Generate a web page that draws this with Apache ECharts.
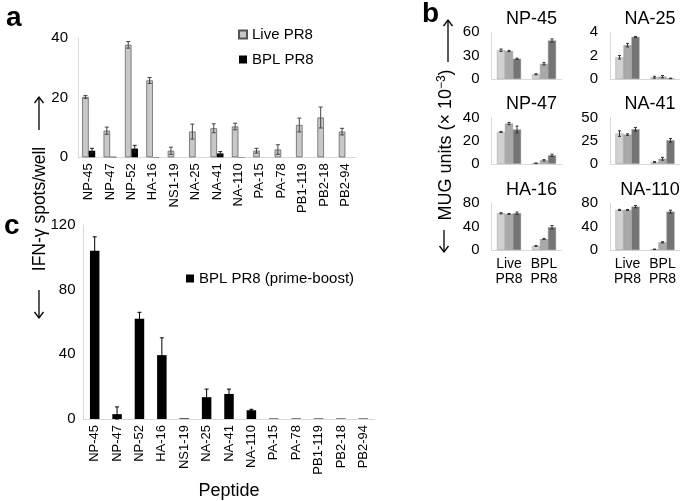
<!DOCTYPE html>
<html><head><meta charset="utf-8">
<script src="https://cdn.jsdelivr.net/npm/echarts@6/dist/echarts.min.js"></script>
<style>html,body{margin:0;padding:0;background:#fff}#c{width:685px;height:501px}</style>
</head><body><div id="c"></div>
<script>
// ---- data ----
const peptides = ['NP-45','NP-47','NP-52','HA-16','NS1-19','NA-25','NA-41','NA-110','PA-15','PA-78','PB1-119','PB2-18','PB2-94'];
const liveA    = [20.2, 8.9, 37.6, 25.7, 2.2, 8.6, 9.7, 10.3, 2.2, 2.6, 10.8, 13.3, 8.6];
const liveAErr = [0.5, 1.2, 1.1, 1.0, 1.2, 2.5, 1.5, 1.1, 0.8, 1.6, 2.3, 3.5, 1.1];
const bplA     = [2.2, 0.2, 2.9, 0.1, 0, 0, 1.3, 0.1, 0, 0, 0, 0, 0];
const bplAErr  = [0.8, 0, 1.1, 0, 0, 0, 0.6, 0, 0, 0, 0, 0, 0];
const bplC     = [104, 3, 62, 39.5, 0.4, 13.5, 15.5, 5.4, 0.3, 0.3, 0.3, 0.3, 0.3];
const bplCErr  = [8.7, 4.5, 4, 10.7, 0, 5, 3, 0.6, 0, 0, 0, 0, 0];
const aTicks = [0, 20, 40];
const cTicks = [0, 40, 80, 120];

const bGroups = ['Live\nPR8', 'BPL\nPR8'];
const bTitles = ['NP-45', 'NA-25', 'NP-47', 'NA-41', 'HA-16', 'NA-110'];
const bLight    = [[37, 6], [1.86, 0.15], [27.5, 0.5], [32.6, 1.8], [62.9, 6.9], [68.6, 1.2]];
const bMid      = [[36, 19.5], [2.9, 0.2], [34.8, 3], [31.5, 5.4], [61.7, 18.9], [68.6, 13.2]];
const bDark     = [[26, 49.5], [3.6, 0.05], [29.6, 7.3], [37.3, 25.3], [63, 38.9], [74.3, 65.7]];
const bLightErr = [[1.5, 0.8], [0.15, 0.08], [0.5, 0.2], [3, 0.6], [1, 0.8], [1, 0.4]];
const bMidErr   = [[0.8, 1.5], [0.15, 0.1], [1, 0.6], [0.8, 1.5], [0.8, 1], [0.8, 1]];
const bDarkErr  = [[0.8, 2], [0.05, 0.02], [3, 1], [2, 2], [2, 3], [2, 2.5]];
const bMax      = [60, 4, 40, 50, 80, 80];
const bInterval = [30, 2, 20, 25, 40, 40];

// ---- styling ----
const FONT = 'Liberation Sans, Arial, sans-serif';
const AX = '#d9d9d9';
const chart = echarts.init(document.getElementById('c'), null, {renderer: 'canvas'});

function errSeries(xi, yi, vals, errs, off, color, cap) {
  return {
    type: 'custom', xAxisIndex: xi, yAxisIndex: yi, z: 10, silent: true,
    encode: {x: 0, y: 1},
    data: vals.map((v, i) => [i, v, errs[i]]),
    renderItem(params, api) {
      const i = api.value(0), v = api.value(1), e = api.value(2);
      if (!e) return null;
      const t = api.coord([i, v + e]);
      const b = api.coord([i, Math.max(0, v - e)]);
      const x = t[0] + off;
      const st = {stroke: color, lineWidth: 1};
      return {type: 'group', children: [
        {type: 'line', shape: {x1: x, y1: t[1], x2: x, y2: b[1]}, style: st},
        {type: 'line', shape: {x1: x - cap, y1: t[1], x2: x + cap, y2: t[1]}, style: st},
        {type: 'line', shape: {x1: x - cap, y1: b[1], x2: x + cap, y2: b[1]}, style: st}
      ]};
    }
  };
}

const grids = [], xAxes = [], yAxes = [], series = [], titles = [];
const txt = {color: '#000', fontFamily: FONT};

// panel a
grids.push({left: 78, top: 37.7, width: 278, height: 119.6});
xAxes.push({type: 'category', gridIndex: 0, data: peptides,
  axisLine: {lineStyle: {color: AX}}, axisTick: {length: 5, lineStyle: {color: AX}},
  axisLabel: Object.assign({rotate: 90, fontSize: 13, margin: 6, interval: 0}, txt)});
yAxes.push({type: 'value', gridIndex: 0, min: aTicks[0], max: aTicks[2], interval: aTicks[1] - aTicks[0],
  axisLine: {show: true, lineStyle: {color: AX}}, axisTick: {show: false}, splitLine: {show: false},
  axisLabel: Object.assign({fontSize: 15, margin: 10}, txt)});
series.push({name: 'Live PR8', type: 'bar', xAxisIndex: 0, yAxisIndex: 0, data: liveA, barWidth: 6.5, barGap: '0%',
  itemStyle: {color: '#c8c8c8', borderColor: '#555', borderWidth: 0.7}});
series.push({name: 'BPL PR8', type: 'bar', xAxisIndex: 0, yAxisIndex: 0, data: bplA, barWidth: 6.5, barGap: '0%',
  itemStyle: {color: '#000'}});
series.push(errSeries(0, 0, liveA, liveAErr, -3.25, '#444', 2));
series.push(errSeries(0, 0, bplA, bplAErr, 3.25, '#222', 2));

// panel c
grids.push({left: 83.5, top: 225, width: 291, height: 198.3});
xAxes.push({type: 'category', gridIndex: 1, data: peptides,
  axisLine: {lineStyle: {color: AX}}, axisTick: {length: 5, lineStyle: {color: AX}},
  axisLabel: Object.assign({rotate: 90, fontSize: 13, margin: 6, interval: 0}, txt),
  name: 'Peptide', nameLocation: 'middle', nameGap: 63, nameTextStyle: Object.assign({fontSize: 18}, txt)});
yAxes.push({type: 'value', gridIndex: 1, min: cTicks[0], max: cTicks[3], interval: cTicks[1] - cTicks[0],
  axisLine: {show: true, lineStyle: {color: AX}}, axisTick: {show: false}, splitLine: {show: false},
  axisLabel: Object.assign({fontSize: 15, margin: 8}, txt)});
series.push({name: 'BPL PR8 (prime-boost)', type: 'bar', xAxisIndex: 1, yAxisIndex: 1, data: bplC, barWidth: 9.5,
  itemStyle: {color: '#000'}});
series.push(errSeries(1, 1, bplC, bplCErr, 0, '#000', 2));

// panel b
const colLeft = [491.5, 610];
const rowTop = [32.3, 117.5, 203.3];
const rowH = [46.7, 46.3, 46.7];
const shades = ['#d2d2d2', '#a9a9a9', '#747474'];
for (let k = 0; k < 6; k++) {
  const r = Math.floor(k / 2), c = k % 2;
  const gi = grids.length;
  grids.push({left: colLeft[c], top: rowTop[r], width: 70, height: rowH[r]});
  xAxes.push({type: 'category', gridIndex: gi, data: bGroups,
    axisLine: {lineStyle: {color: AX}}, axisTick: {length: 4, lineStyle: {color: AX}},
    axisLabel: Object.assign({show: r === 2, fontSize: 14, lineHeight: 15, margin: 7, interval: 0}, txt)});
  yAxes.push({type: 'value', gridIndex: gi, min: 0, max: bMax[k], interval: bInterval[k],
    axisLine: {show: true, lineStyle: {color: AX}}, axisTick: {show: false}, splitLine: {show: false},
    axisLabel: Object.assign({fontSize: 15, margin: 12}, txt)});
  const sets = [[bLight, bLightErr], [bMid, bMidErr], [bDark, bDarkErr]];
  sets.forEach((s, j) => {
    series.push({name: 'b' + k + '_' + j, type: 'bar', xAxisIndex: gi, yAxisIndex: gi, data: s[0][k],
      barWidth: 8, barGap: '0%', itemStyle: {color: shades[j], borderColor: '#8a8a8a', borderWidth: 0.4}});
  });
  sets.forEach((s, j) => {
    series.push(errSeries(gi, gi, s[0][k], s[1][k], (j - 1) * 8, '#333', 1.5));
  });
  titles.push({text: bTitles[k], left: colLeft[c] + 35, top: rowTop[r] - 27, textAlign: 'center',
    textStyle: Object.assign({fontSize: 18, fontWeight: 'normal'}, txt)});
}

function arrow(x, y1, y2) { // from y1 to y2, head at y2
  const d = y2 > y1 ? -1 : 1;
  return {type: 'group', children: [
    {type: 'line', shape: {x1: x, y1: y1, x2: x, y2: y2}, style: {stroke: '#000', lineWidth: 1.3}},
    {type: 'polyline', shape: {points: [[x - 4.5, y2 + d * 6], [x, y2], [x + 4.5, y2 + d * 6]]}, style: {stroke: '#000', fill: null, lineWidth: 1.3}}
  ]};
}

const option = {
  animation: false,
  backgroundColor: '#fff',
  title: titles,
  grid: grids, xAxis: xAxes, yAxis: yAxes, series: series,
  legend: [
    {data: [{name: 'Live PR8'}, {name: 'BPL PR8'}], orient: 'vertical', left: 233, top: 22, itemWidth: 8, itemHeight: 8, itemGap: 10,
      icon: 'rect', textStyle: Object.assign({fontSize: 15}, txt), selectedMode: false},
    {data: [{name: 'BPL PR8 (prime-boost)'}], left: 181, top: 266, itemWidth: 8, itemHeight: 8,
      icon: 'rect', textStyle: Object.assign({fontSize: 15}, txt), selectedMode: false}
  ],
  graphic: [
    {type: 'text', left: 6, top: 4, style: {text: 'a', font: 'bold 28px ' + FONT, fill: '#000'}},
    {type: 'text', left: 422, top: 0, style: {text: 'b', font: 'bold 28px ' + FONT, fill: '#000'}},
    {type: 'text', left: 4, top: 212, style: {text: 'c', font: 'bold 28px ' + FONT, fill: '#000'}},
    {type: 'text', x: 40, y: 209, rotation: Math.PI / 2,
      style: {text: 'IFN-γ spots/well', font: '17.5px ' + FONT, fill: '#000', align: 'center', verticalAlign: 'middle'}},
    arrow(39, 130, 97),
    arrow(39, 290, 318),
    {type: 'text', x: 446, y: 145, rotation: Math.PI / 2,
      style: {rich: {n: {font: '18px ' + FONT, fill: '#000'}, s: {font: '12px ' + FONT, fill: '#000', verticalAlign: 'top', padding: [0, 0, 8, 0]}},
        text: '{n|MUG units (× 10}{s|−3}{n|)}', align: 'center', verticalAlign: 'middle'}},
    arrow(448, 62, 20),
    arrow(444, 230, 252)
  ]
};
chart.setOption(option);
</script></body></html>
